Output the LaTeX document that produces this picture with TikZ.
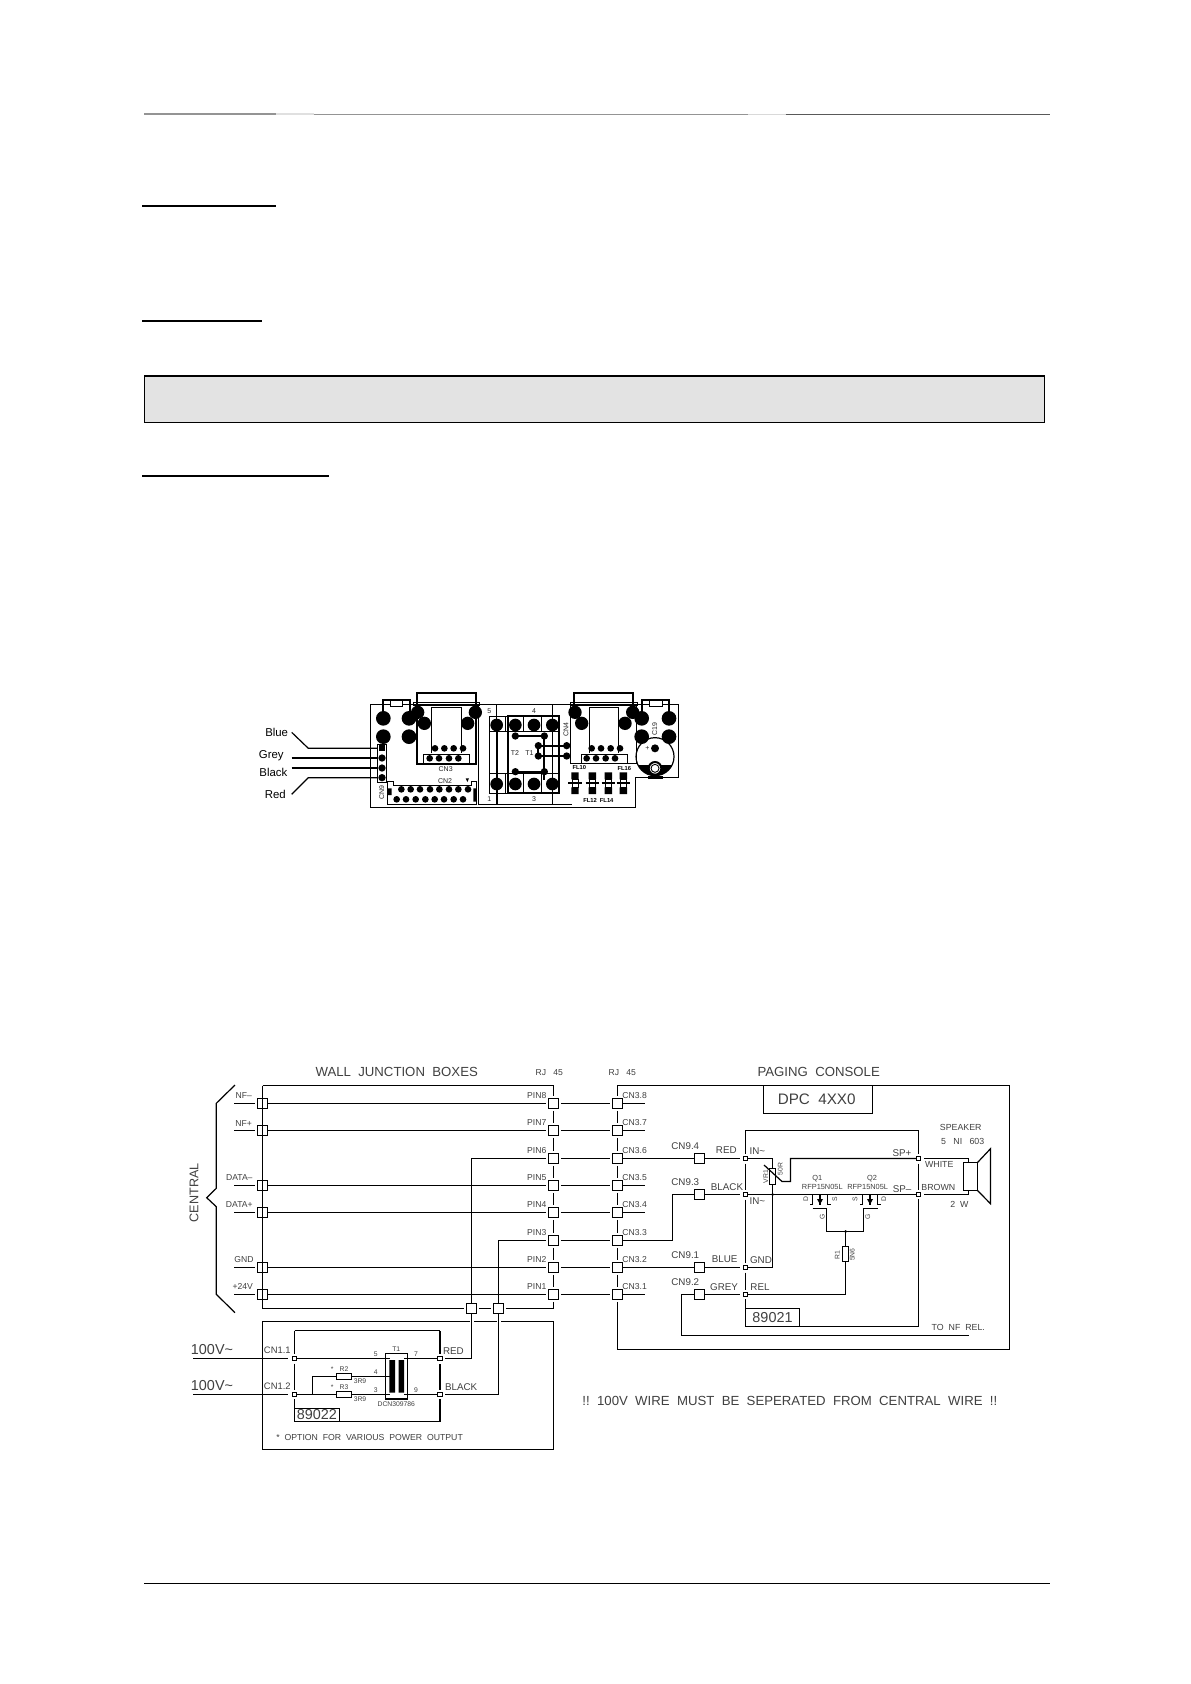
\documentclass[tikz,border=0pt]{standalone}
\usepackage{fontspec}
\setmainfont{Liberation Sans}
\tikzset{
  wire/.style={line width=0.6pt,line join=miter},
  gap/.style={shorten <=1.4pt,shorten >=1.4pt},
  sq/.style={draw,line width=0.55pt,fill=white,minimum size=4.6pt,inner sep=0pt,outer sep=0pt},
  smq/.style={draw,line width=0.55pt,fill=white,minimum size=2.2pt,inner sep=0pt,outer sep=0pt},
  tx/.style={inner sep=0pt,text=black!75},
  ftiny/.style={tx,font=\fontsize{3.4}{4}\selectfont},
  fsm/.style={tx,font=\fontsize{4.3}{5}\selectfont},
  fmd/.style={tx,font=\fontsize{4.9}{6}\selectfont},
  flg/.style={tx,font=\fontsize{6.6}{7}\selectfont},
  fxl/.style={tx,font=\fontsize{7.2}{9}\selectfont},
  pcbt/.style={inner sep=0pt,text=black!85,font=\fontsize{3.5}{4}\selectfont},
  pcbf/.style={inner sep=0pt,text=black,font=\fontsize{2.9}{3}\selectfont\bfseries},
  pcbl/.style={inner sep=0pt,text=black,font=\fontsize{5.7}{6}\selectfont},
  thin/.style={line width=0.45pt},
  heavy/.style={line width=1.1pt}
}
\begin{document}
\begin{tikzpicture}[x=0.5pt,y=-0.5pt]
\useasboundingbox (0,0) rectangle (1190,1684);
\fill[white] (0,0) rectangle (1190,1684);
% page furniture
\draw[black!42,line width=0.55pt] (144,114)--(276,114);
\draw[black!12,line width=0.55pt] (276,114)--(313.5,114);
\draw[black!42,line width=0.55pt] (313.5,114.5)--(748,114.5);
\draw[black!15,line width=0.55pt] (748,114.5)--(785.5,114.5);
\draw[black!65,line width=0.55pt] (785.5,114.5)--(1050,114.5);
\draw[line width=1pt] (142,205.7)--(276,205.7);
\draw[line width=1pt] (142,320.7)--(262,320.7);
\draw[line width=1pt] (142,475.7)--(329,475.7);
\draw[fill=black!11,line width=0.5pt] (144,376)rectangle(1044,423);
\draw[line width=1pt] (144,376)--(1044,376);
\draw[line width=0.6pt] (144,1583.5)--(1050,1583.5);

% ================= PCB =================
\begin{scope}[shift={(240,680)},x=0.16667pt,y=-0.16667pt]
\draw[thin] (390,72)--(1315,72)--(1315,293)--(1185,293)--(1185,381)--(390,381)--cycle;
\foreach \a/\b/\r in {430/115/22,430/170/22,507/115/22,507/170/22,533/97/20,553/130/20,706/97/20,683/130/20,
   1005/97/20,1025/130/20,1178/97/20,1155/130/20,1205/115/22,1287/115/22,1205/170/22,1287/170/22,
   770/135/19,826/135/19,882/135/19,937/135/19,770/312/19,826/312/19,882/312/19,937/312/19,
   826/168/11,913/168/11,895/197/11,895/228/11,980/197/11,980/228/11,826/275/11,913/275/11,
   585/205/10,613/205/10,641/205/10,669/205/10,569/235/10,597/235/10,627/235/10,655/235/10,
   1055/205/10,1083/205/10,1112/205/10,1140/205/10,1040/235/10,1068/235/10,1097/235/10,1125/235/10,
   484/328/10,512/328/10,540/328/10,570/328/10,598/328/10,627/328/10,655/328/10,684/328/10,
   470/358/10,498/358/10,527/358/10,556/358/10,584/358/10,612/358/10,641/358/10,669/358/10,
   426/234/11,426/264/11,426/293/11} \fill (\a,\b) circle (\r);
\fill (417,195) rectangle (435,212);
% connectors + brackets
\draw[heavy] (530,72)--(530,38)--(708,38)--(708,72);
\draw[heavy] (1003,72)--(1003,38)--(1180,38)--(1180,72);
\draw[heavy] (430,115)--(430,60)--(510,60)--(510,115);
\draw[heavy] (1205,115)--(1205,60)--(1287,60)--(1287,115);
\draw[thin,fill=white] (450,60) rectangle (488,78);
\draw[thin,fill=white] (1228,60) rectangle (1267,78);
\draw[thin] (520,68)rectangle(718,76) (992,68)rectangle(1192,76);
\draw[thin] (575,220)--(575,83)--(665,83)--(665,220);
\draw[thin] (1048,220)--(1048,83)--(1135,83)--(1135,220);
\draw[heavy] (530,72)--(530,252)--(708,252)--(708,72);
\draw[thin] (550,252)--(550,222)--(688,222)--(688,252);
\draw[thin] (992,72)--(992,250)--(1023,250) (1190,72)--(1190,250)--(1162,250);
\draw[line width=0.8pt] (1023,250)--(1162,250);
\draw[thin] (1023,250)--(1023,222)--(1162,222)--(1162,250);
\draw[thin] (412,193) rectangle (440,307);
% CN2
\draw[thin] (443,305)--(443,373)--(710,373)--(710,305)--(695,305)--(695,316)--(460,316)--(460,305)--cycle;
\fill (443,325) rectangle (455,345) (700,325) rectangle (710,365);
\fill (677,295)--(687,295)--(682,306)--cycle;
% middle section
\draw[thin] (716,72)--(716,373)--(995,373) (770,72)--(770,120) (937,72)--(937,373);
\draw[thin] (748,108) rectangle (958,340);
\draw[thin] (748,155)--(958,155) (748,280)--(958,280);
\draw[thin] (795,108)--(795,155) (850,108)--(850,155) (905,108)--(905,155) (795,280)--(795,340) (850,280)--(850,340) (905,280)--(905,340);
\draw[heavy] (803,340)--(803,108)--(958,108)--(958,340)--cycle;
\draw[heavy] (770,120)--(770,372);
\draw[line width=0.9pt] (826,168)--(913,168)--(913,300) (826,275)--(913,275) (895,197)--(980,197) (895,228)--(980,228) (895,197)--(895,228);
% filter
\foreach \a in {1005,1057,1105,1150}{
  \fill (\a-11,277) rectangle (\a+11,298) (\a-11,322) rectangle (\a+11,342);
  \draw[thin] (\a-9,298) rectangle (\a+9,322);
  \draw[heavy] (\a-20,310)--(\a+20,310);
}
% C19
\begin{scope}
  \clip (1245,230) circle (57);
  \fill (1180,256) rectangle (1310,300);
\end{scope}
\draw[line width=0.6pt] (1245,230) circle (57);
\fill (1225,288) rectangle (1268,298);
\fill (1245,205) circle (12);
\draw[fill=white,line width=1pt] (1245,265) circle (19);
\draw[thin] (1245,265) circle (12);
% texts
\node[pcbt] (pt1) at (617,268) {CN3};
\node[pcbt] (pt2) at (615,302) {CN2};
\node[pcbt,rotate=90] (pt3) at (425,338) {CN9};
\node[pcbt] (pt4) at (748,93) {5};
\node[pcbt] (pt5) at (882,93) {4};
\node[pcbt] (pt6) at (825,219) {T2};
\node[pcbt] (pt7) at (868,219) {T1};
\node[pcbt,rotate=90] (pt8) at (978,148) {CN4};
\node[pcbt] (pt9) at (748,358) {1};
\node[pcbt] (pt10) at (882,358) {3};
\node[pcbf] (pt11) at (1018,261) {FL10};
\node[pcbf] (pt12) at (1153,264) {FL16};
\node[pcbf] (pt13) at (1050,361) {FL12};
\node[pcbf] (pt14) at (1100,361) {FL14};
\node[pcbt,rotate=90] (pt15) at (1244,148) {C19};
\node[pcbt] (pt16) at (1222,206) {+};
% wires
\coordinate (wb0) at (155,157); \coordinate (wb1) at (205,205); \coordinate (wb2) at (412,205);
\coordinate (wg0) at (155,234); \coordinate (wg2) at (412,234);
\coordinate (wk0) at (155,264); \coordinate (wk2) at (412,264);
\coordinate (wr0) at (155,343); \coordinate (wr1) at (205,293); \coordinate (wr2) at (412,293);
\draw[line width=0.6pt] (wb0)--(wb1)--(wb2);
\draw[line width=0.6pt] (wr0)--(wr1)--(wr2);
\draw[line width=0.8pt] (wg0)--(wg2);
\draw[line width=0.8pt] (wk0)--(wk2);
\node[pcbl] (lblue) at (110,156) {Blue};
\node[pcbl] (lgrey) at (94,227) {Grey};
\node[pcbl] (lblack) at (100,277) {Black};
\node[pcbl] (lred) at (106,344) {Red};
\end{scope}

% ================= schematic, left =================
\coordinate (jtl) at (262.5,1085.5);
\coordinate (jtr) at (553.5,1085.5);
\coordinate (jbl) at (262.5,1308.5);
\coordinate (jbr) at (553.5,1308.5);
\node[sq] (b6) at (471.5,1308.5) {};
\node[sq] (b3) at (498.5,1308.5) {};
\draw[wire] (jtl)--(jtr);
\foreach \n/\y in {8/1103.5,7/1130.5,5/1185.5,4/1212.5,2/1267.5,1/1294.5}{
  \node[sq] (l\n) at (262.5,\y) {};
  \coordinate (s\n) at (234.3,\y);
  \draw[wire,shorten >=1.4pt] (s\n)--(l\n.west);
}
\foreach \n/\y in {8/1103.5,7/1130.5,6/1158.5,5/1185.5,4/1212.5,3/1240.5,2/1267.5,1/1294.5}{
  \node[sq] (p\n) at (553.5,\y) {};
  \node[sq] (c\n) at (617.5,\y) {};
  \draw[wire,gap] (p\n.east)--(c\n.west);
  \node[fsm,anchor=east] (pl\n) at (546.7,\y-7.6) {PIN\n};
  \node[fsm,anchor=west] (cl\n) at (622,\y-7.6) {CN3.\n};
}
\foreach \n in {8,7,5,4,2,1}{ \draw[wire,shorten >=1.4pt] (l\n.east)--(p\n.west); }
\foreach \n in {8,7,5,4,1}{ \coordinate (e\n) at (645,0 |- c\n); \draw[wire] (c\n.east)--(e\n); }
\draw[wire] (jtl)--(jbl);
\draw[wire,shorten >=1.4pt] (jbl)--(b6.west);
\draw[wire,gap] (b6.east)--(b3.west);
\draw[wire,shorten <=1.4pt] (b3.east)--(jbr);
\draw[wire,shorten >=1.4pt] (jtr)--(p8.north);
\draw[wire,shorten <=1.4pt] (p1.south)--(jbr);
\foreach \a/\b in {8/7,7/6,6/5,5/4,4/3,3/2,2/1}{
  \draw[wire,gap] (p\a.south)--(p\b.north);
  \draw[wire,gap] (c\a.south)--(c\b.north);
}
\draw[wire,shorten <=1.4pt] (p6.west) -| (b6.north);
\draw[wire,shorten <=1.4pt] (p3.west) -| (b3.north);
% left labels
\node[fsm] (tn1) at (243.7,1096) {NF--};
\node[fsm] (tn2) at (243.7,1123.3) {NF+};
\node[fsm] (tn3) at (239.3,1178) {DATA--};
\node[fsm] (tn4) at (239.3,1205) {DATA+};
\node[fsm] (tn5) at (244,1259.7) {GND};
\node[fsm] (tn6) at (242.7,1286.7) {+24V};
\node[flg,font=\fontsize{6.3}{7}\selectfont,rotate=90] (tcen) at (194,1192.7) {CENTRAL};
\node[flg] (twall) at (396.7,1072) {WALL\ \ JUNCTION\ \ BOXES};
\node[fsm] (trj1) at (549.3,1073) {RJ\ \ \ 45};
\node[fsm] (trj2) at (622.3,1073) {RJ\ \ \ 45};
\draw[wire] (235,1085)--(216.3,1103.3)--(216.3,1188.3)--(206.7,1197.7)--(216.3,1206.7)--(216.3,1294.3)--(235,1312.7);

% ================= lower box 89022 =================
\draw[wire] (469.5,1321.5)--(262.5,1321.5)--(262.5,1449.5)--(553.5,1449.5)--(553.5,1321.5)--(501,1321.5);
\draw[wire] (474,1321.5)--(496.5,1321.5);
\node[smq] (a1) at (294.5,1358.5) {};
\node[smq] (a2) at (294.5,1394.5) {};
\node[smq] (a3) at (440,1358.5) {};
\node[smq] (a4) at (440,1394.5) {};
\coordinate (bt1) at (294.5,1330.5);
\coordinate (bt2) at (440,1330.5);
\coordinate (bb1) at (294.5,1421.5);
\coordinate (bb2) at (440,1421.5);
\draw[wire] (bt1)--(bt2);
\draw[wire,shorten >=1.2pt] (bt1)--(a1.north);
\draw[wire,gap] (a1.south)--(a2.north);
\draw[wire,shorten <=1.2pt] (a2.south)--(bb1)--(bb2);
\draw[wire,shorten >=1.2pt] (bb2)--(a4.south);
\draw[wire,gap] (a4.north)--(a3.south);
\draw[wire,shorten <=1.2pt] (a3.north)--(bt2);
\coordinate (i1) at (193.3,1358.5); \coordinate (i2) at (193.3,1394.5);
\draw[wire,shorten >=2pt] (i1)--(a1.west);
\draw[wire,shorten >=2pt] (i2)--(a2.west);
\draw[wire,shorten >=1.5pt] (b6.south)|-(a3.east);
\draw[wire,shorten >=1.5pt] (b3.south)|-(a4.east);
% transformer
\draw[wire] (385.3,1353.5) rectangle (407.3,1399);
\fill (389.3,1360) rectangle (395,1392.7) (398.5,1360) rectangle (404,1392.7);
\node[draw,wire,fill=white,minimum width=7.7pt,minimum height=3pt,inner sep=0pt] (r2) at (344,1376.5) {};
\node[draw,wire,fill=white,minimum width=7.7pt,minimum height=3pt,inner sep=0pt] (r3) at (344,1394.5) {};
\coordinate (tl1) at (390,1358.5); \coordinate (tl2) at (390,1376.5); \coordinate (tl3) at (390,1394.5);
\coordinate (tr1) at (404,1358.5); \coordinate (tr2) at (404,1394.5);
\coordinate (jr) at (312.5,1394.5);
\draw[wire] (a1.east)--(tl1);
\draw[wire] (tr1)--(a3.west);
\draw[wire] (a2.east)--(r3.west);
\draw[wire] (r3.east)--(tl3);
\draw[wire] (tr2)--(a4.west);
\draw[wire] (r2.east)--(tl2);
\draw[wire] (r2.west)-|(jr);
\node[fxl] (t100a) at (212,1349.3) {100V\char"7E};
\node[fxl] (t100b) at (212,1385.7) {100V\char"7E};
\node[fsm,font=\fontsize{4.7}{6}\selectfont] (tc11) at (277.3,1350.7) {CN1.1};
\node[fsm,font=\fontsize{4.7}{6}\selectfont] (tc12) at (277.3,1386.7) {CN1.2};
\node[fmd,anchor=west] (tred) at (442.7,1350.7) {RED};
\node[fmd,anchor=west] (tblk) at (444.7,1386.7) {BLACK};
\foreach \nm/\a/\b/\s in {x1/375.7/1353.7/5,x2/416/1353.7/7,x3/396.3/1349.5/T1,x4/375.7/1371.7/4,x5/375.7/1390/3,x6/416/1390/9,
  x7/344/1368.7/R2,x8/344/1386.7/R3,x9/332.3/1369.5/*,x10/332.3/1387.5/*,x11/360/1381/3R9,x12/360/1399.3/3R9,x13/396.3/1403.7/DCN309786}{
  \node[ftiny] (\nm) at (\a,\b) {\s};
}
\draw[wire] (294.5,1408.5)--(339.5,1408.5)--(339.5,1421.5);
\node[fxl] (t89b) at (316.8,1415) {89022};
\node[tx,font=\fontsize{4.35}{6}\selectfont,anchor=west] (topt) at (276,1437) {*\ \ OPTION\ \ FOR\ \ VARIOUS\ \ POWER\ \ OUTPUT};
\node[tx,font=\fontsize{6.6}{7}\selectfont,anchor=west] (twarn) at (582,1401) {!!\ \ 100V\ \ WIRE\ \ MUST\ \ BE\ \ SEPERATED\ \ FROM\ \ CENTRAL\ \ WIRE\ \ !!};

% ================= paging console =================
\coordinate (rt1) at (617.5,1085.5); \coordinate (rt2) at (1009.5,1085.5);
\coordinate (rb1) at (617.5,1349.5); \coordinate (rb2) at (1009.5,1349.5);
\draw[wire,shorten >=1.4pt] (rb2)--(rt2)--(rt1)--(c8.north);
\draw[wire,shorten <=1.4pt] (c1.south)--(rb1)--(rb2);
\draw[wire] (763.5,1085.5)--(763.5,1113.5)--(872.5,1113.5)--(872.5,1085.5);
\node[flg,font=\fontsize{7.6}{8}\selectfont] (tdpc) at (816.7,1099.3) {DPC\ \ 4XX0};
\node[flg] (tpag) at (818.7,1072) {PAGING\ \ CONSOLE};
\foreach \n/\y in {4/1158.5,3/1194.5,1/1267.5,2/1294.5}{
  \node[sq] (n\n) at (699.5,\y) {};
  \node[smq] (i\n) at (745.5,\y) {};
  \draw[wire,shorten >=1.6pt] (n\n.east)--(i\n.west);
}
\draw[wire] (c6.east)--(n4.west);
\coordinate (k3) at (672.5,1194.5);
\draw[wire] (c3.east)-|(k3)--(n3.west);
\draw[wire] (c2.east)--(n1.west);
\coordinate (k2a) at (681.5,1294.5); \coordinate (k2b) at (681.5,1335.5); \coordinate (k2c) at (968.5,1335.5);
\draw[wire] (n2.west)--(k2a)--(k2b)--(k2c);
% inner box
\coordinate (ib1) at (745.5,1130.5); \coordinate (ib2) at (918.5,1130.5);
\coordinate (ib3) at (918.5,1326.5); \coordinate (ib4) at (745.5,1326.5);
\node[smq] (o1) at (918.5,1158.5) {};
\node[smq] (o2) at (918.5,1194.5) {};
\draw[wire,shorten <=1.2pt,shorten >=1.2pt] (i4.north)--(ib1)--(ib2)--(o1.north);
\draw[wire,gap] (o1.south)--(o2.north);
\draw[wire,shorten <=1.2pt,shorten >=1.2pt] (o2.south)--(ib3)--(ib4)--(i2.south);
\draw[wire,gap] (i4.south)--(i3.north);
\draw[wire,gap] (i3.south)--(i1.north);
\draw[wire,gap] (i1.south)--(i2.north);
\draw[wire] (745.5,1308.5)--(799.5,1308.5)--(799.5,1326.5);
\node[fxl] (t89a) at (772.5,1317.4) {89021};
% VR1
\node[draw,wire,fill=white,minimum width=3pt,minimum height=8.2pt,inner sep=0pt] (vr) at (772.5,1176.5) {};
\coordinate (vrt) at (772.5,1158.5);
\coordinate (vrb) at (772.5,1194.5);
\coordinate (vr2) at (772.5,1267.5);
\draw[wire] (i4.east)--(vrt)--(vr.north);
\draw[wire] (vr.south)--(vr2)--(i1.east);
\fill (vrb) circle (1.5);
\coordinate (sw1) at (790.5,1158.5); \coordinate (sw2) at (790.5,1181.5); \coordinate (sw3) at (782,1181.5); \coordinate (sw4) at (764,1165);
\draw[wire] (o1.west)--(sw1)--(sw2)--(sw3)--(sw4);
\draw[wire] (i3.east)--(o2.west);
% MOSFETs
\draw[wire] (812.5,1194.5)--(812.5,1204.5)--(809.5,1204.5);
\draw[wire] (820,1194.5)--(820,1204.5);
\draw[wire] (827.5,1194.5)--(827.5,1204.5)--(830.5,1204.5);
\draw[wire] (862.5,1194.5)--(862.5,1204.5)--(859.5,1204.5);
\draw[wire] (870,1194.5)--(870,1204.5);
\draw[wire] (877.5,1194.5)--(877.5,1204.5)--(880.5,1204.5);
\fill (817,1199)--(823,1199)--(820,1204.5)--cycle;
\fill (867,1199)--(873,1199)--(870,1204.5)--cycle;
\draw[wire] (812.7,1208.5)--(826.5,1208.5)--(826.5,1231.5)--(863.5,1231.5)--(863.5,1208.5)--(877.7,1208.5);
\fill (845.5,1231.5) circle (1.5);
\node[draw,wire,fill=white,minimum width=3pt,minimum height=7.4pt,inner sep=0pt] (r1) at (845.5,1254) {};
\coordinate (rj) at (845.5,1231.5);
\coordinate (rk) at (845.5,1294.5);
\draw[wire] (rj)--(r1.north);
\draw[wire] (r1.south)--(rk)--(i2.east);
% speaker
\draw[wire] (963.5,1162.5) rectangle (977.5,1190.5);
\draw[wire] (977.5,1162.5)--(990.5,1148.7)--(990.5,1203.7)--(977.5,1190.5);
\coordinate (spa) at (968.5,1162.5); \coordinate (spb) at (968.5,1190.5);
\coordinate (sp1) at (968.5,1158.5); \coordinate (sp2) at (968.5,1194.5);
\draw[wire,shorten <=1.8pt] (o1.east)--(sp1)--(spa);
\draw[wire,shorten <=1.8pt] (o2.east)--(sp2)--(spb);
% labels
\foreach \nm/\a/\b/\s in {m1/685.3/1146/CN9.4,m2/685.3/1182.3/CN9.3,m3/685.3/1255.3/CN9.1,m4/685.3/1282.3/CN9.2,
  m5/726.3/1150.3/RED,m6/727/1187/BLACK,m7/724.7/1259.3/BLUE,m8/724/1286.7/GREY,
  m11/761/1259.7/GND,m12/760/1287/REL,m13/902/1153/SP+,m14/902/1189.3/SP--}{
  \node[fmd] (\nm) at (\a,\b) {\s};
}
\foreach \nm/\a/\b/\s in {m15/939.3/1164.3/WHITE,m16/938.3/1187/BROWN,m17/960.7/1127.7/SPEAKER,m20/958.3/1327.7/TO\ \ NF\ \ REL.}{
  \node[tx,font=\fontsize{4.4}{6}\selectfont] (\nm) at (\a,\b) {\s};
}
\node[fmd] (m9) at (757.3,1150.7) {IN\char"7E};
\node[fmd] (m10) at (757.3,1200.7) {IN\char"7E};
\node[tx,font=\fontsize{4.4}{6}\selectfont] (m18) at (962.7,1141.3) {5\ \ \ NI\ \ \ 603};
\node[tx,font=\fontsize{4.4}{6}\selectfont] (m19) at (959.3,1204.7) {2\ \ W};
\foreach \nm/\a/\b/\s in {q1/817.3/1178.3/Q1,q2/872/1178.3/Q2,q3/822.3/1187.3/RFP15N05L,q4/867.7/1187.3/RFP15N05L}{
  \node[ftiny,font=\fontsize{3.7}{4}\selectfont] (\nm) at (\a,\b) {\s};
}
\foreach \nm/\a/\b/\s in {g1/805.7/1199/D,g2/834.7/1199/S,g3/822.3/1216.7/G,g4/855/1199/S,g5/883.7/1199/D,g6/867.7/1216.7/G,
  g7/765.7/1176.7/VR1,g8/780.3/1169.3/50R,g9/837.3/1254.7/R1,g10/852.3/1254.7/5N6}{
  \node[ftiny,rotate=90] (\nm) at (\a,\b) {\s};
}
\end{tikzpicture}
\end{document}
